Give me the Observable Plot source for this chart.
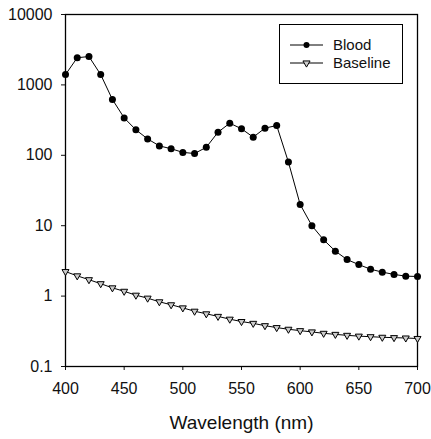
<!DOCTYPE html>
<html>
<head>
<meta charset="utf-8">
<script src="https://cdn.jsdelivr.net/npm/d3@7"></script>
<script src="https://cdn.jsdelivr.net/npm/@observablehq/plot@0.6"></script>
<style>
  html, body { margin: 0; padding: 0; background: #fff; }
</style>
</head>
<body>
<div id="chart"></div>
<script>
const wavelengths = [400,410,420,430,440,450,460,470,480,490,500,510,520,530,540,550,560,570,580,590,600,610,620,630,640,650,660,670,680,690,700];
const blood = [1400,2430,2530,1400,620,340,230,171,136,124,110,106,130,213,286,238,181,243,265,80,20,10,6.3,4.35,3.3,2.8,2.41,2.19,2.03,1.92,1.9];
const baseline = [2.23,1.94,1.71,1.5,1.31,1.17,1.03,0.935,0.83,0.753,0.68,0.61,0.56,0.515,0.47,0.435,0.41,0.38,0.357,0.338,0.323,0.31,0.296,0.286,0.277,0.27,0.265,0.26,0.257,0.254,0.25];
const yTicks = [0.1, 1, 10, 100, 1000, 10000];
const xTicks = [400, 450, 500, 550, 600, 650, 700];
const seriesNames = ["Blood", "Baseline"];
const xLabel = "Wavelength (nm)";

const bloodData = wavelengths.map((w, i) => ({w, v: blood[i]}));
const baseData = wavelengths.map((w, i) => ({w, v: baseline[i]}));

const font = "'Liberation Sans', Arial, sans-serif";

const svg = Plot.plot({
  width: 431,
  height: 439,
  marginLeft: 65,
  marginRight: 14,
  marginTop: 14,
  marginBottom: 73,
  style: {fontFamily: font, fontSize: "16px", color: "#111", background: "#fff", overflow: "visible"},
  x: {domain: [400, 700]},
  y: {type: "log", domain: [0.1, 10000]},
  marks: [
    Plot.axisX({ticks: xTicks, tickSize: 4, tickPadding: 12, label: null, fontSize: 16, tickFormat: d => String(d)}),
    Plot.axisY({ticks: yTicks, tickSize: 4, tickPadding: 9, label: null, fontSize: 16, tickFormat: d => String(d)}),
    Plot.frame({stroke: "#000", strokeWidth: 1.3}),
    Plot.line(baseData, {x: "w", y: "v", stroke: "#000", strokeWidth: 1}),
    Plot.dot(baseData, {x: "w", y: "v", symbol: "triangle", rotate: 180, r: 2.6, fill: "#ccc", stroke: "#000", strokeWidth: 1}),
    Plot.line(bloodData, {x: "w", y: "v", stroke: "#000", strokeWidth: 1}),
    Plot.dot(bloodData, {x: "w", y: "v", r: 3.5, fill: "#000", stroke: "none"}),
    Plot.text([xLabel], {frameAnchor: "bottom", dy: 62, fontSize: 19, fill: "#111", text: d => d})
  ]
});

// Legend
const g = d3.select(svg).append("g").attr("font-family", font).attr("font-size", 15).attr("text-anchor", "start");
g.append("rect").attr("x", 279.5).attr("y", 24.5).attr("width", 123).attr("height", 59)
  .attr("fill", "#fff").attr("stroke", "#000").attr("stroke-width", 1);
const rows = [45, 63];
seriesNames.forEach((name, i) => {
  const y = rows[i];
  g.append("line").attr("x1", 290).attr("x2", 323).attr("y1", y).attr("y2", y).attr("stroke", "#000");
  if (i === 0) {
    g.append("circle").attr("cx", 306.5).attr("cy", y).attr("r", 3).attr("fill", "#000");
  } else {
    g.append("path").attr("d", d3.symbol(d3.symbolTriangle, 22)()).attr("transform", `translate(306.5,${y}) rotate(180)`)
      .attr("fill", "#ccc").attr("stroke", "#000");
  }
  g.append("text").attr("x", 333).attr("y", y).attr("dy", "0.35em").attr("text-anchor", "start").attr("fill", "#111").text(name);
});

document.getElementById("chart").appendChild(svg);
</script>
</body>
</html>
